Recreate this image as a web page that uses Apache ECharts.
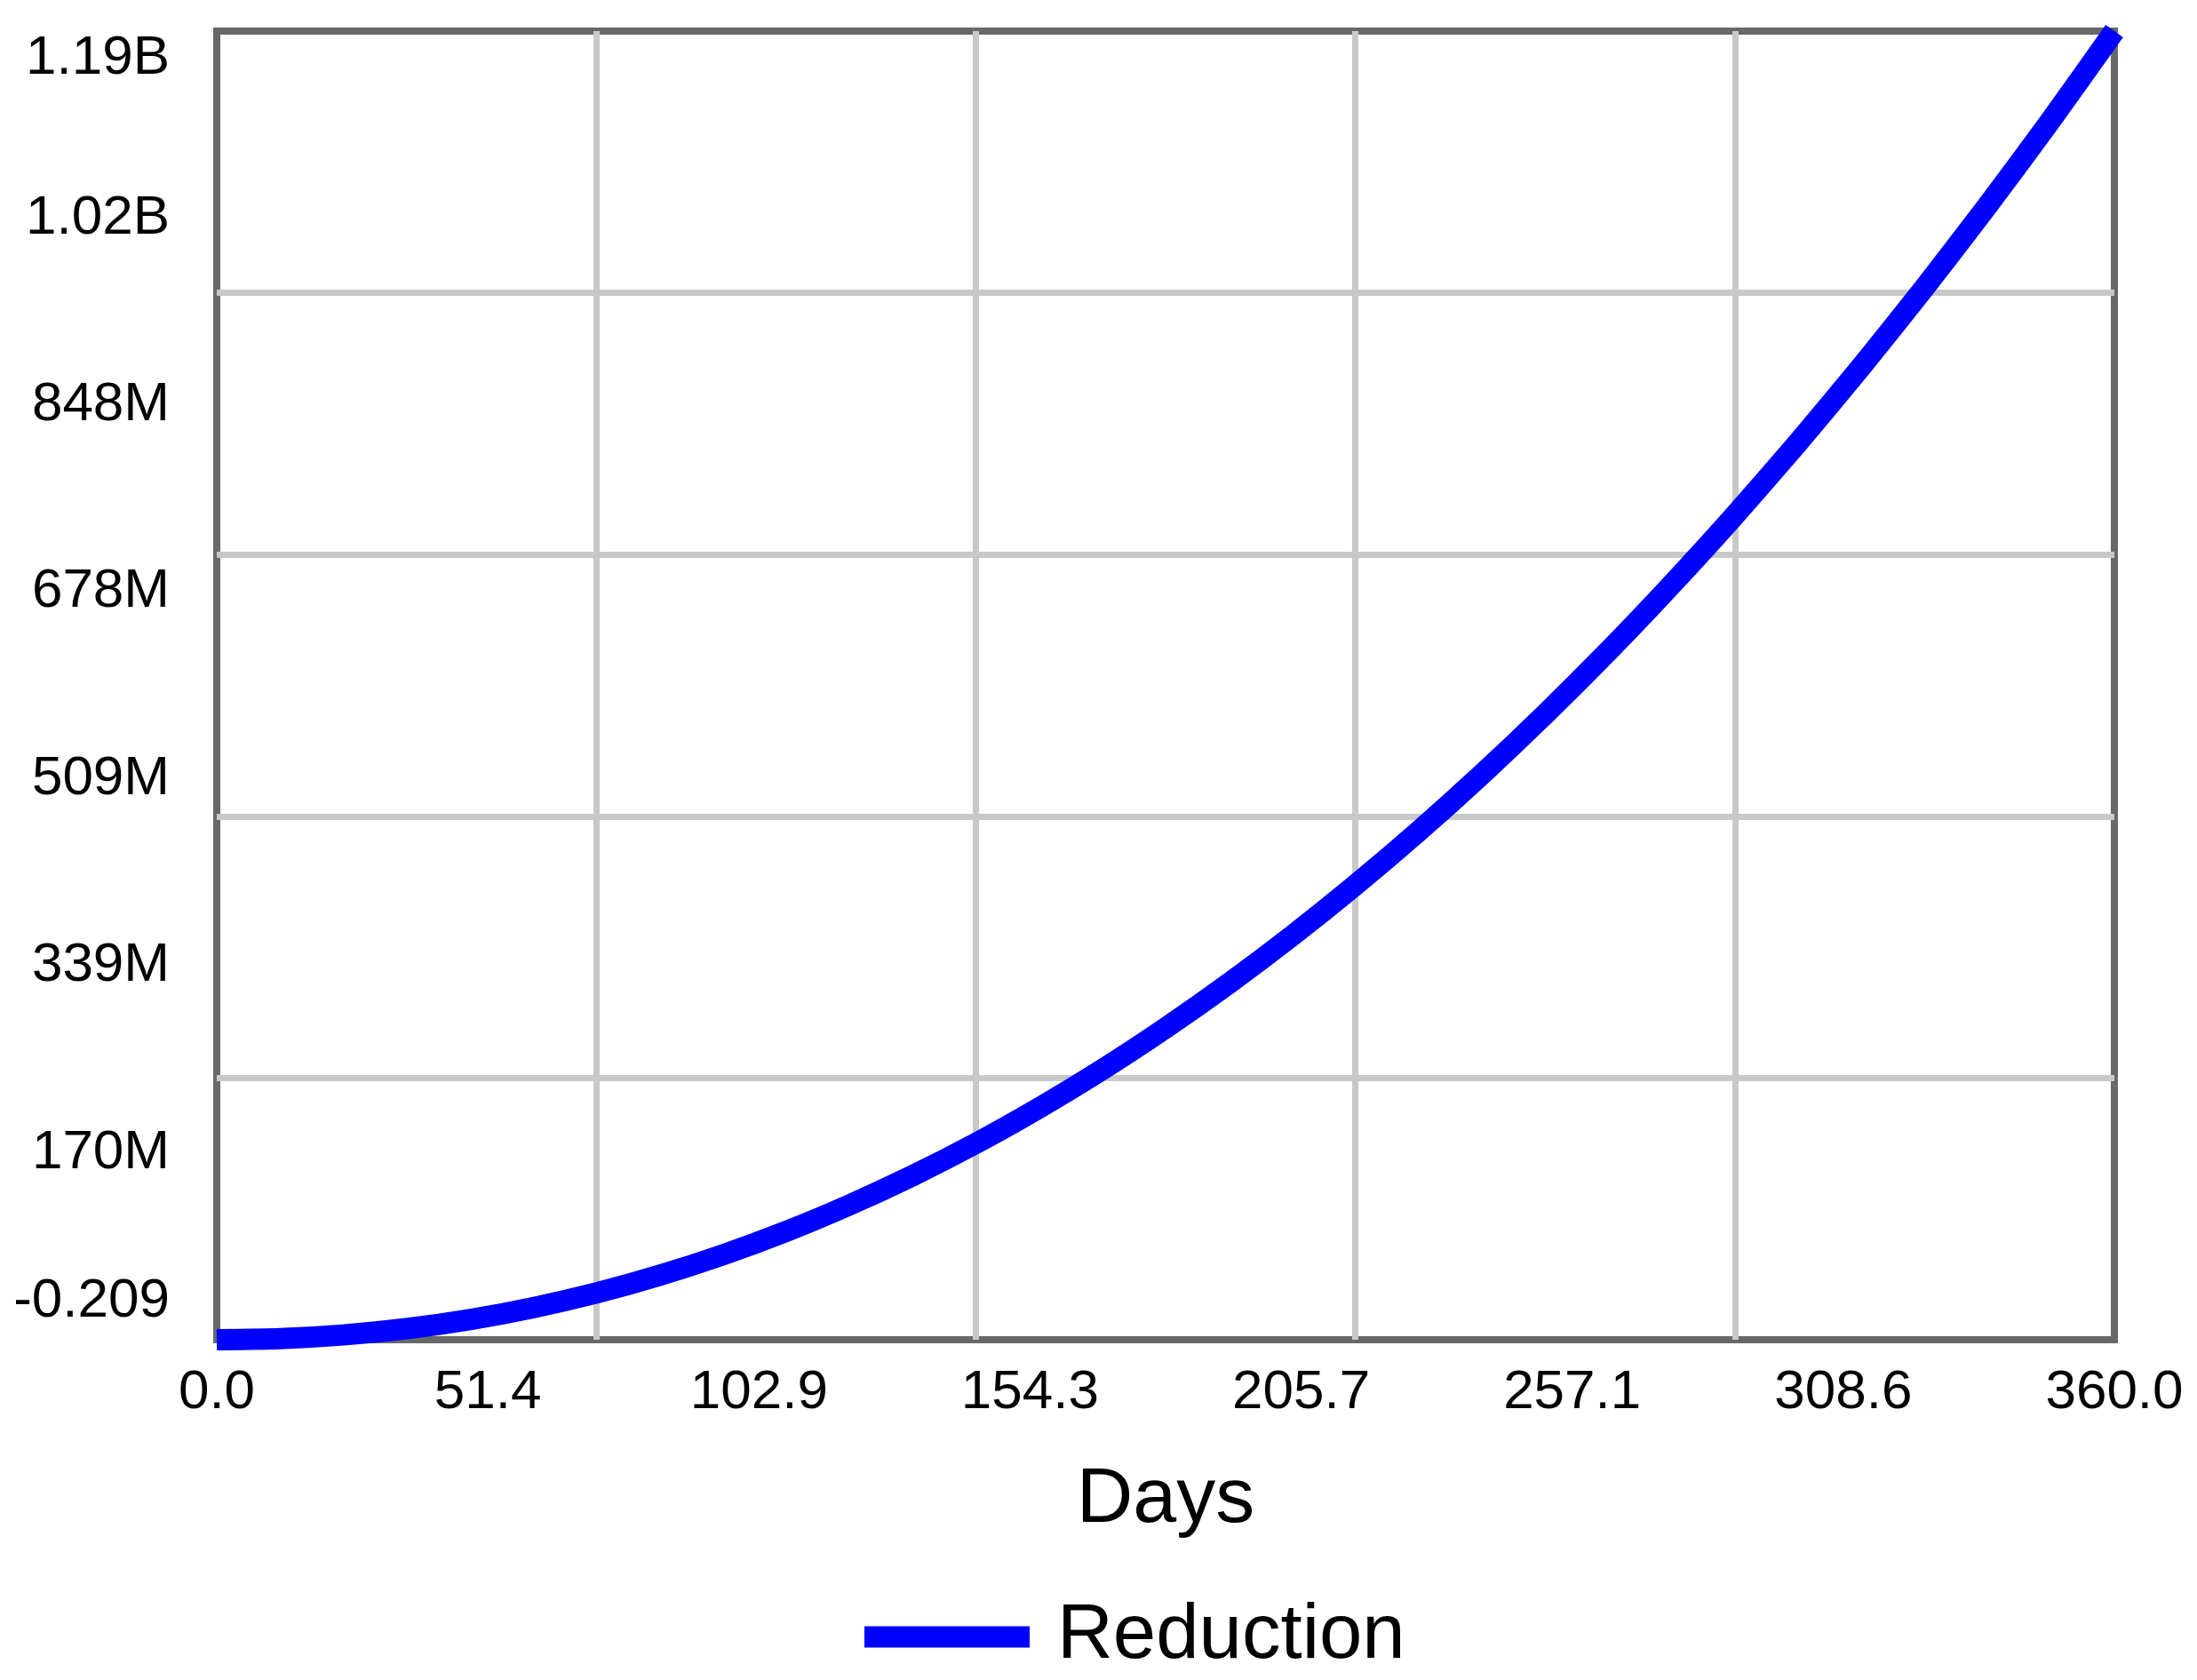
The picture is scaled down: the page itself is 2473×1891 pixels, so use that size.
<!DOCTYPE html>
<html>
<head>
<meta charset="utf-8">
<script src="https://cdn.jsdelivr.net/npm/echarts@6/dist/echarts.min.js"></script>
<style>
html,body{margin:0;padding:0;background:#ffffff;}
#chart{width:2473px;height:1891px;}
</style>
</head>
<body>
<div id="chart"></div>
<script>
// ---- data ----
const days = [0, 12, 24, 36, 48, 60, 72, 84, 96, 108, 120, 132, 144, 156, 168, 180,
              192, 204, 216, 228, 240, 252, 264, 276, 288, 300, 312, 324, 336, 348, 360];
// Reduction, in millions
const reduction = [-0.000000209, 1.04, 4.36, 10.1, 18.3, 29.1, 42.4, 58.4, 77.0, 98.2, 122.2,
                   148.8, 178.1, 210.3, 245.1, 282.8, 323.2, 366.4, 412.4, 461.2, 512.9,
                   567.4, 624.7, 685.0, 748.0, 814.0, 882.8, 954.6, 1029.2, 1106.7, 1187.2];
const xTickLabels = ['0.0', '51.4', '102.9', '154.3', '205.7', '257.1', '308.6', '360.0'];
const yTickLabels = ['-0.209', '170M', '339M', '509M', '678M', '848M', '1.02B', '1.19B'];
const seriesName = 'Reduction';
const xAxisTitle = 'Days';
const xMax = 360;
const yMax = 1187.2;     // millions
const xGridStep = 72;    // 5 grid cells
const yGridStep = 237.44;

const FONT = '"Liberation Sans", Arial, Helvetica, sans-serif';
const GRID_COLOR = '#c8c8c8';
const FRAME_COLOR = '#686868';
const LINE_COLOR = '#0000ff';

const chart = echarts.init(document.getElementById('chart'), null, {renderer: 'canvas'});
chart.setOption({
  animation: false,
  backgroundColor: '#ffffff',
  grid: {
    left: 244, right: 93, top: 35, bottom: 383,
    show: true, borderColor: FRAME_COLOR, borderWidth: 8, backgroundColor: 'transparent'
  },
  legend: {
    show: true,
    left: 973, top: 1799, padding: 0,
    itemWidth: 186, itemHeight: 24, itemGap: 0,
    icon: 'rect',
    itemStyle: {borderWidth: 0},
    data: [{name: seriesName, icon: 'rect'}],
    textStyle: {fontSize: 87, color: '#000000', fontFamily: FONT, padding: [0, 0, 0, 26]}
  },
  xAxis: [
    {
      type: 'value', min: 0, max: xMax, interval: xGridStep,
      axisLine: {show: false}, axisTick: {show: false}, axisLabel: {show: false},
      splitLine: {show: true, showMinLine: false, showMaxLine: false,
                  lineStyle: {color: GRID_COLOR, width: 7}},
      name: xAxisTitle, nameLocation: 'middle', nameGap: 137,
      nameTextStyle: {fontSize: 88, color: '#000000', fontFamily: FONT}
    },
    {
      type: 'value', min: 0, max: xTickLabels.length - 1, interval: 1, position: 'bottom',
      axisLine: {show: false}, axisTick: {show: false}, splitLine: {show: false},
      axisLabel: {
        formatter: v => xTickLabels[Math.round(v)],
        fontSize: 62, color: '#000000', fontFamily: FONT, margin: 29
      }
    }
  ],
  yAxis: [
    {
      type: 'value', min: 0, max: yMax, interval: yGridStep,
      axisLine: {show: false}, axisTick: {show: false}, axisLabel: {show: false},
      splitLine: {show: true, showMinLine: false, showMaxLine: false,
                  lineStyle: {color: GRID_COLOR, width: 7}}
    },
    {
      type: 'value', min: 0, max: yTickLabels.length - 1, interval: 1, position: 'left',
      axisLine: {show: false}, axisTick: {show: false}, splitLine: {show: false},
      axisLabel: {
        formatter: v => yTickLabels[Math.round(v)],
        fontSize: 62, color: '#000000', fontFamily: FONT, margin: 53,
        padding: [0, 0, 12, 0],
        verticalAlignMinLabel: 'bottom', verticalAlignMaxLabel: 'top'
      }
    }
  ],
  series: [
    {
      type: 'line', name: seriesName, xAxisIndex: 0, yAxisIndex: 0,
      data: days.map((d, i) => [d, reduction[i]]),
      showSymbol: false, symbol: 'none',
      smooth: 0.2,
      color: LINE_COLOR,
      lineStyle: {color: LINE_COLOR, width: 24, cap: 'butt', join: 'round'},
      itemStyle: {color: LINE_COLOR}
    }
  ]
});
</script>
</body>
</html>
